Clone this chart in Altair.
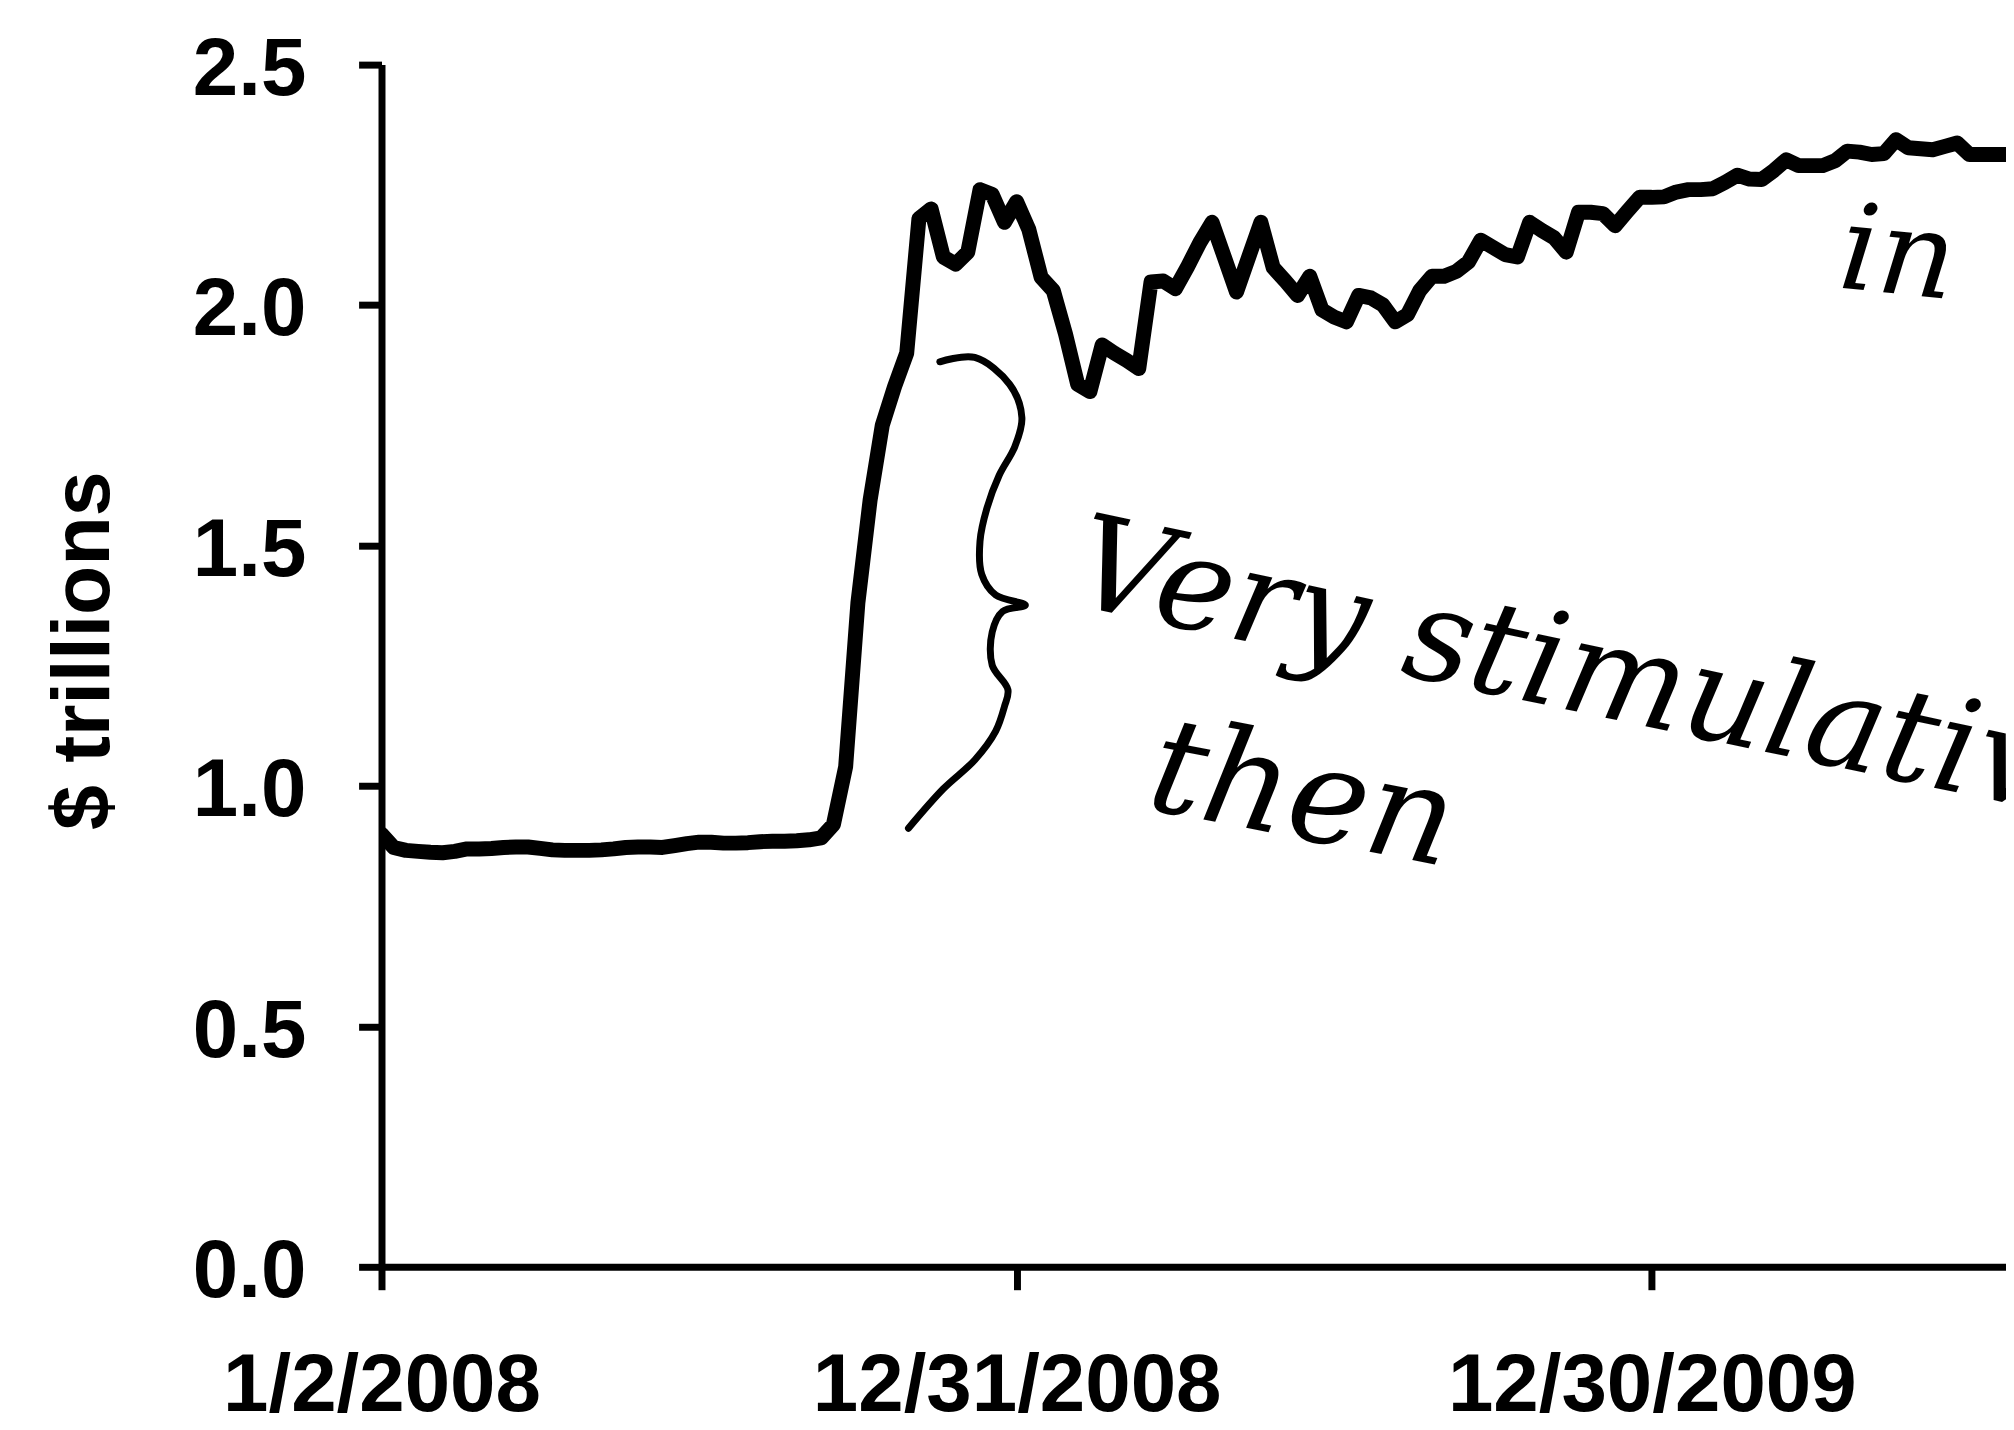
import altair as alt
import pandas as pd

# ---------------- data ----------------
week_start = "2008-01-02"
balance_sheet = [
    0.900, 0.872, 0.866, 0.864, 0.862, 0.861, 0.864, 0.869, 0.869, 0.870,
    0.872, 0.873, 0.873, 0.870, 0.867, 0.866, 0.866, 0.866, 0.867, 0.869,
    0.872, 0.873, 0.873, 0.872, 0.876, 0.880, 0.883, 0.883, 0.881, 0.881,
    0.882, 0.884, 0.885, 0.885, 0.886, 0.888, 0.892, 0.920, 1.040, 1.380,
    1.594, 1.750, 1.830, 1.900, 2.180, 2.200, 2.100, 2.085, 2.110, 2.240,
    2.230, 2.172, 2.215, 2.157, 2.058, 2.030, 1.940, 1.835, 1.820, 1.917,
    1.900, 1.885, 1.868, 2.048, 2.050, 2.034, 2.080, 2.130, 2.172, 2.100,
    2.027, 2.100, 2.172, 2.078, 2.050, 2.020, 2.060, 1.990, 1.975, 1.965,
    2.020, 2.015, 2.000, 1.965, 1.980, 2.030, 2.060, 2.060, 2.070, 2.090,
    2.135, 2.120, 2.105, 2.100, 2.172, 2.155, 2.140, 2.110, 2.193, 2.193,
    2.190, 2.165, 2.195, 2.224, 2.224, 2.225, 2.235, 2.240, 2.240, 2.242,
    2.255, 2.270, 2.262, 2.261, 2.280, 2.302, 2.290, 2.290, 2.290, 2.300,
    2.320, 2.318, 2.313, 2.315, 2.344, 2.327, 2.325, 2.323, 2.330, 2.337,
    2.313, 2.313, 2.313, 2.313,
]
x_end = "2010-07-21"

tick_dates = ["2008-01-02", "2008-12-31", "2009-12-30"]
y_ticks = [0.0, 0.5, 1.0, 1.5, 2.0, 2.5]
y_title = "$ trillions"

# handwritten notes (anchored at left baseline, in data units)
note_texts = ["Very stimulative", "then", "in"]
note_dates = ["2009-01-30", "2009-03-14", "2010-04-15"]
note_values = [1.379, 0.954, 2.037]
note_angles = [12, 11, 6]
note_sizes = [131, 135, 120]

# hand-drawn brace (days after week_start, value)
brace_days = [320, 340, 360, 367, 363, 354, 347, 343, 344, 352,
              369, 356, 350, 350, 359, 357, 352, 340, 322, 302]
brace_values = [1.882, 1.891, 1.835, 1.766, 1.706, 1.646, 1.578, 1.509, 1.440, 1.397,
                1.376, 1.363, 1.320, 1.251, 1.200, 1.165, 1.114, 1.054, 0.994, 0.912]

# ---------------- build tables ----------------
def ms(s):
    return int(pd.Timestamp(s, tz="UTC").timestamp() * 1000)

week_dates = pd.date_range(week_start, periods=len(balance_sheet), freq="7D").strftime("%Y-%m-%d").tolist()
line_df = pd.DataFrame({"date": week_dates, "value": balance_sheet})

brace_dates = [(pd.Timestamp(week_start) + pd.Timedelta(days=d)).strftime("%Y-%m-%d") for d in brace_days]
brace_df = pd.DataFrame({"date": brace_dates, "value": brace_values, "idx": list(range(len(brace_days)))})

note_df = pd.DataFrame({"date": note_dates, "value": note_values, "text": note_texts,
                        "angle": note_angles, "size": note_sizes})

x_scale = alt.Scale(type="utc", domain=[ms(week_start), ms(x_end)], nice=False)
y_scale = alt.Scale(domain=[0, 2.5], nice=False, zero=True)

LABEL_FONT = "Liberation Sans"

x_axis = alt.Axis(
    values=[ms(d) for d in tick_dates],
    labelExpr="utcFormat(datum.value, '%-m/%-d/%Y')",
    title=None, grid=False, labelFlush=False, labelOverlap=False, labelLimit=0,
    tickSize=23, tickWidth=7, domainWidth=7, tickColor="black", domainColor="black",
    labelFont=LABEL_FONT, labelFontWeight="bold", labelFontSize=82, labelColor="black",
    labelPadding=56,
)
y_axis = alt.Axis(
    values=y_ticks, format=".1f", grid=False, labelLimit=0,
    tickSize=23, tickWidth=7, domainWidth=7, tickColor="black", domainColor="black",
    labelFont=LABEL_FONT, labelFontWeight="bold", labelFontSize=82, labelColor="black",
    labelPadding=53, labelOffset=5, labelFlush=False,
    title=y_title, titleFont=LABEL_FONT, titleFontWeight="bold", titleFontSize=81,
    titleColor="black", titleAngle=270, titleAlign="center", titleBaseline="alphabetic",
    titleX=-274, titleY=588, titleLimit=0,
)

line = alt.Chart(line_df).mark_line(
    color="black", strokeWidth=15, strokeJoin="round", strokeCap="round", clip=True
).encode(
    x=alt.X("date:T", scale=x_scale, axis=x_axis),
    y=alt.Y("value:Q", scale=y_scale, axis=y_axis),
)

brace = alt.Chart(brace_df).mark_line(
    color="black", strokeWidth=7, interpolate="catmull-rom", strokeCap="round"
).encode(
    x=alt.X("date:T", scale=x_scale),
    y=alt.Y("value:Q", scale=y_scale),
    order=alt.Order("idx:Q"),
)

notes = alt.Chart(note_df).mark_text(
    font="DejaVu Serif", fontStyle="italic", align="left", baseline="alphabetic",
    color="black", clip=True
).encode(
    x=alt.X("date:T", scale=x_scale),
    y=alt.Y("value:Q", scale=y_scale),
    text="text:N",
    angle=alt.Angle("angle:Q", scale=None),
    size=alt.Size("size:Q", scale=None),
)

chart = alt.layer(line, brace, notes).properties(
    width=1631, height=1207,
    autosize=alt.AutoSizeParams(type="none"),
    padding={"left": 375, "top": 54, "right": 0, "bottom": 160},
    background="white",
).configure_view(stroke=None)

chart.save("out.html", embed_options={"renderer": "svg", "actions": False})
